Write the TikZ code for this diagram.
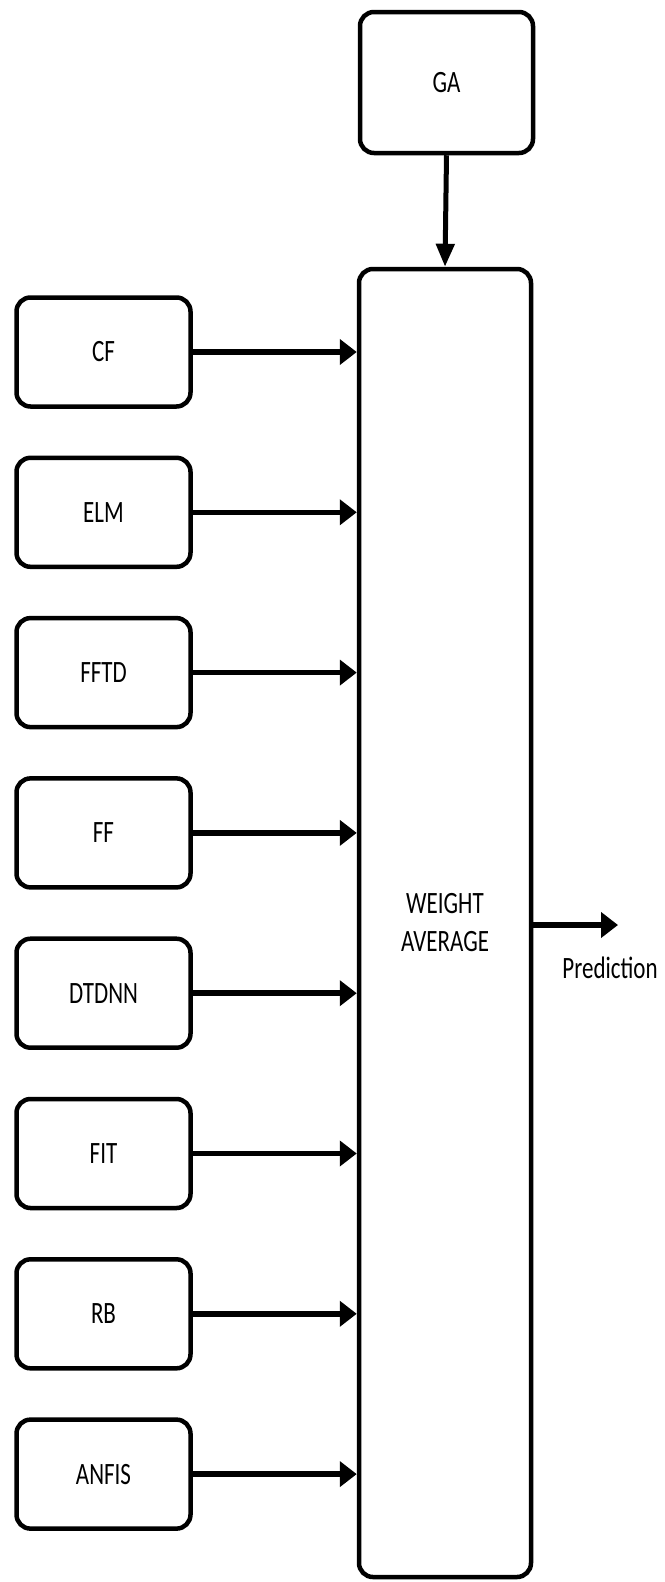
\documentclass[tikz,border=0pt]{standalone}
\usepackage{fontspec}
\setmainfont{Carlito}
\usetikzlibrary{arrows.meta}
\newcommand\vst[1]{\scalebox{1}[1.35]{#1}}
\begin{document}
\begin{tikzpicture}[x=1pt,y=-1pt,
  box/.style={draw, line width=4.5pt, rounded corners=14pt, inner sep=0pt,
    font=\fontsize{23}{38}\selectfont, align=center},
  src/.style={box, minimum width=174pt, minimum height=109pt},
  hx/.style={line width=5.5pt, -{Triangle[length=17pt,width=25pt]}},
  vy/.style={line width=5pt, -{Triangle[length=23pt,width=18pt]}},
  lbl/.style={font=\fontsize{23}{38}\selectfont, inner sep=0pt}]
\useasboundingbox (0,0) rectangle (664,1582);
\node[box, minimum width=173pt, minimum height=141pt] (GA) at (446.5,82.5) {\vst{GA}};
\node[box, minimum width=172pt, minimum height=1308pt] (W) at (445,923) {\vst{WEIGHT}\\\vst{AVERAGE}};
\foreach \n/\t [count=\i from 0] in {CF/CF,ELM/ELM,FFTD/FFTD,FF/FF,DTDNN/DTDNN,FIT/FIT,RB/RB,ANFIS/ANFIS}{
  \node[src] (\n) at (103.5,{352+160.3*\i}) {\vst{\t}};
  \draw[hx] (\n.east) -- (\n.east -| W.west);
}
\draw[vy] (GA.south) -- (W.north);
\coordinate (P) at (618,925);
\draw[hx] (W.east |- P) -- (P);
\node[lbl, anchor=base] (PL) at (610,978) {\vst{Prediction}};
\end{tikzpicture}
\end{document}
